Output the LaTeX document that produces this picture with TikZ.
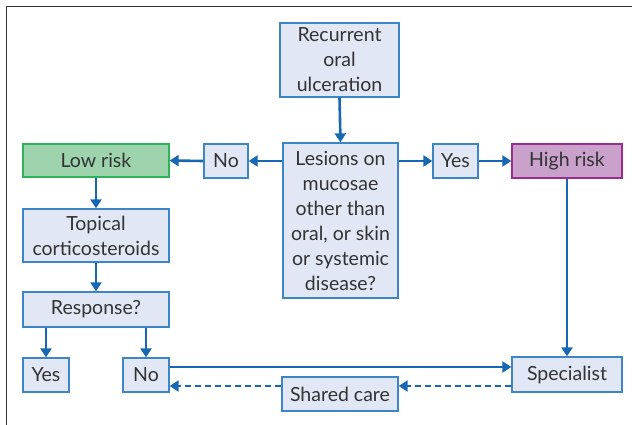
\documentclass[tikz,border=0pt]{standalone}
\usepackage{fontspec}
\setmainfont{Lato}
\usetikzlibrary{arrows.meta}
\definecolor{boxfill}{HTML}{E2E7F5}
\definecolor{boxline}{HTML}{3D86C6}
\definecolor{flow}{HTML}{1768B4}
\definecolor{lowfill}{HTML}{9DD4AE}
\definecolor{lowline}{HTML}{2DB35A}
\definecolor{highfill}{HTML}{C9A1CB}
\definecolor{highline}{HTML}{9B2C93}
\definecolor{ink}{HTML}{333333}
\tikzset{
  box/.style={draw=boxline, fill=boxfill, line width=1.3pt, inner sep=0pt,
    align=center, text=ink, font=\fontsize{19.5}{25}\selectfont},
  lowbox/.style={box, draw=lowline, fill=lowfill},
  highbox/.style={box, draw=highline, fill=highfill},
  arr/.style={draw=flow, line width=2.6pt, -{Triangle[length=9pt,width=11pt]}},
  darr/.style={arr, dash pattern=on 6pt off 4pt},
  frame/.style={draw=ink, line width=1.4pt}
}
\begin{document}
\begin{tikzpicture}[x=1pt,y=-1pt]
\useasboundingbox (0,0) rectangle (632,425);
% open frame: top and left sides only
\draw[frame] (632,6.5) -- (6.5,6.5) -- (6.5,425);

% boxes
\node[box, minimum width=119pt, minimum height=74pt] (rec) at (339.5,60) {Recurrent\\oral\\ulceration};
\node[box, minimum width=115pt, minimum height=155pt] (les) at (340.5,220.5) {Lesions on\\mucosae\\other than\\oral, or skin\\or systemic\\disease?};
\node[box, minimum width=44pt, minimum height=34pt] (no1) at (226,161) {No};
\node[lowbox, minimum width=146pt, minimum height=33pt] (low) at (96,160.5) {Low risk};
\node[box, minimum width=45pt, minimum height=34pt] (yes1) at (455.5,161) {Yes};
\node[highbox, minimum width=110pt, minimum height=34pt] (high) at (567,161) {High risk};
\node[box, minimum width=146pt, minimum height=53pt] (top) at (96,235.5) {Topical\\corticosteroids};
\node[box, minimum width=146pt, minimum height=35pt] (resp) at (96,309.5) {Response?};
\node[box, minimum width=46pt, minimum height=34pt] (yes2) at (46,375) {Yes};
\node[box, minimum width=46pt, minimum height=34pt] (no2) at (146,375) {No};
\node[box, minimum width=110pt, minimum height=35pt] (spec) at (567,374.5) {Specialist};
\node[box, minimum width=116pt, minimum height=34pt] (shared) at (340,394) {Shared care};

% levels of the two bottom horizontal runs
\coordinate (solidrow) at (0,367);
\coordinate (dashrow) at (0,386);

% connectors
\draw[arr] (rec.south) -- (les.north);
\draw[arr] (les.west |- no1.east) -- (no1.east);
\draw[arr] (no1.west) -- (low.east);
\draw[arr] (les.east |- yes1.west) -- (yes1.west);
\draw[arr] (yes1.east) -- (high.west);
\draw[arr] (high.south) -- (spec.north);
\draw[arr] (low.south) -- (top.north);
\draw[arr] (top.south) -- (resp.north);
\draw[arr] (resp.south -| yes2.north) -- (yes2.north);
\draw[arr] (resp.south -| no2.north) -- (no2.north);
\draw[arr] (no2.east |- solidrow) -- (spec.west |- solidrow);
\draw[darr] (spec.west |- dashrow) -- (shared.east |- dashrow);
\draw[darr] (shared.west |- dashrow) -- (no2.east |- dashrow);
\end{tikzpicture}
\end{document}
